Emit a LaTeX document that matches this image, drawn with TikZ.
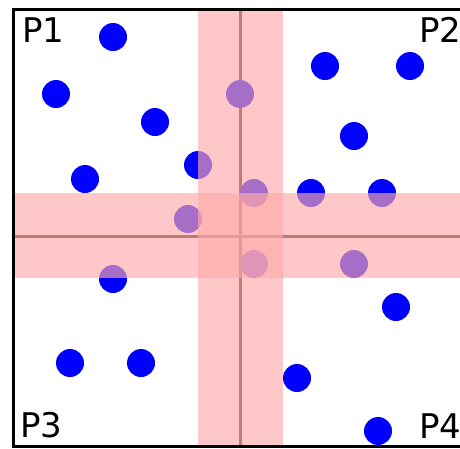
\documentclass[tikz,border=0pt]{standalone}
\usepackage{fontspec}
\setmainfont{DejaVu Sans}
\usepackage{xcolor}
\usepackage{tikz}
\usetikzlibrary{positioning}
\definecolor{band}{RGB}{255,170,170}
\definecolor{splitline}{RGB}{70,30,30}

\begin{document}
\begin{tikzpicture}[x=1pt,y=-1pt,
  dot/.style={circle,fill=blue,inner sep=0pt,minimum size=28pt},
  corner/.style={anchor=base west,inner sep=0pt,font=\fontsize{34}{34}\selectfont},
  slab/.style={fill=band,fill opacity=0.65}]
 \useasboundingbox (0,0) rectangle (460,448);
 \fill[white] (0,0) rectangle (460,448);
 % split lines
 \coordinate (vtop) at (240,9);
 \coordinate (vbot) at (240,446);
 \coordinate (hleft) at (13,236);
 \coordinate (hright) at (462,236);
 \draw[splitline,line width=3pt] (vtop) -- (vbot);
 \draw[splitline,line width=3pt] (hleft) -- (hright);
 % points
 \foreach \px/\py [count=\i] in {113/37,56/94,155/122,198/165,85/179,188/219,240/94,
   325/66,410/66,354/136,254/193,311/193,382/193,113/279,70/363,141/363,
   254/264,354/264,396/307,297/378,378/431}
   \node[dot] (p\i) at (\px,\py) {};
 % slabs round the split lines
 \fill[slab] (198,10) rectangle (283,446);
 \fill[slab] (14,193) rectangle (462,278);
 % frame
 \draw[line width=3pt] (462,9.5) -- (13.5,9.5) -- (13.5,446.5) -- (462,446.5);
 \node[corner] (q1) at (22,42) {P1};
 \node[corner] (q2) at (419,42) {P2};
 \node[corner] (q3) at (20,437) {P3};
 \node[corner] (q4) at (419,438) {P4};
\end{tikzpicture}
\end{document}
